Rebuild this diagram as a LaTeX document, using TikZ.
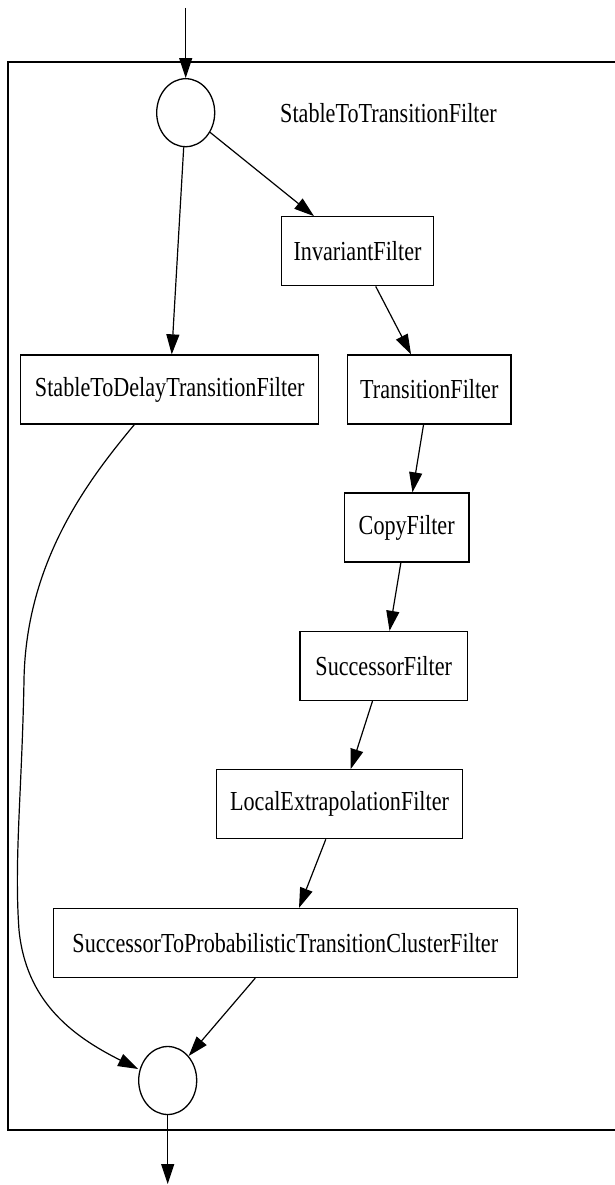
\documentclass[tikz,border=0pt]{standalone}
\usepackage{fontspec}
\setmainfont{Liberation Serif}[FakeStretch=0.805]
\usetikzlibrary{arrows.meta,shapes.geometric}
\tikzset{
  filterbox/.style={draw, line width=1.3pt, rectangle, minimum height=69pt, inner sep=0pt,
    font=\fontsize{27.5}{30}\selectfont},
  junction/.style={draw, line width=1.3pt, ellipse, minimum width=58pt, minimum height=68pt, inner sep=0pt},
  flow/.style={line width=1.2pt, -{Triangle[length=20pt,width=13pt]}},
  clusterframe/.style={line width=2pt},
  clustertitle/.style={font=\fontsize{27.5}{30}\selectfont}
}
\begin{document}
\begin{tikzpicture}[x=1pt,y=-1pt]
  \useasboundingbox (0,0) rectangle (614,1185);
  \fill[white] (0,0) rectangle (614,1185);

  % cluster frame (right side runs off the page)
  \draw[clusterframe] (7.5,62.5) rectangle (620,1130);
  \node[clustertitle] (title) at (388.5,113) {StableToTransitionFilter};

  % junctions
  \node[junction] (in)  at (185.7,112.7) {};
  \node[junction] (out) at (167.7,1080.5) {};

  % filters
  \node[filterbox, minimum width=298pt]   (sd)   at (169.7,389.5) {StableToDelayTransitionFilter};
  \node[filterbox, minimum width=151.7pt] (inv)  at (357.5,251.3) {InvariantFilter};
  \node[filterbox, minimum width=163.3pt] (tr)   at (429.3,389.5) {TransitionFilter};
  \node[filterbox, minimum width=124.7pt] (cp)   at (406.7,527.5) {CopyFilter};
  \node[filterbox, minimum width=167.3pt] (succ) at (383.7,666)   {SuccessorFilter};
  \node[filterbox, minimum width=245.7pt] (loc)  at (339.5,804.2) {LocalExtrapolationFilter};
  \node[filterbox, minimum width=464pt]   (sp)   at (285.3,943)   {SuccessorToProbabilisticTransitionClusterFilter};

  % free ends
  \coordinate (src)  at (185.7,8);
  \coordinate (sink) at (167.7,1184);

  % connectors
  \draw[flow] (src) -- (in);
  \draw[flow] (in) -- (inv);
  \draw[flow] (in) -- (sd);
  \draw[flow] (inv) -- (tr);
  \draw[flow] (tr) -- (cp);
  \draw[flow] (cp) -- (succ);
  \draw[flow] (succ) -- (loc);
  \draw[flow] (loc) -- (sp);
  \draw[flow] (sp) -- (out);
  \draw[flow] ([xshift=-35.4pt]sd.south)
      .. controls (90,478) and (26,560) .. (24,680)
      .. controls (22,790) and (14,860) .. (19,930)
      .. controls (26,1000) and (70,1035) .. (out.west |- 0,1069);
  \draw[flow] (out) -- (sink);
\end{tikzpicture}
\end{document}
